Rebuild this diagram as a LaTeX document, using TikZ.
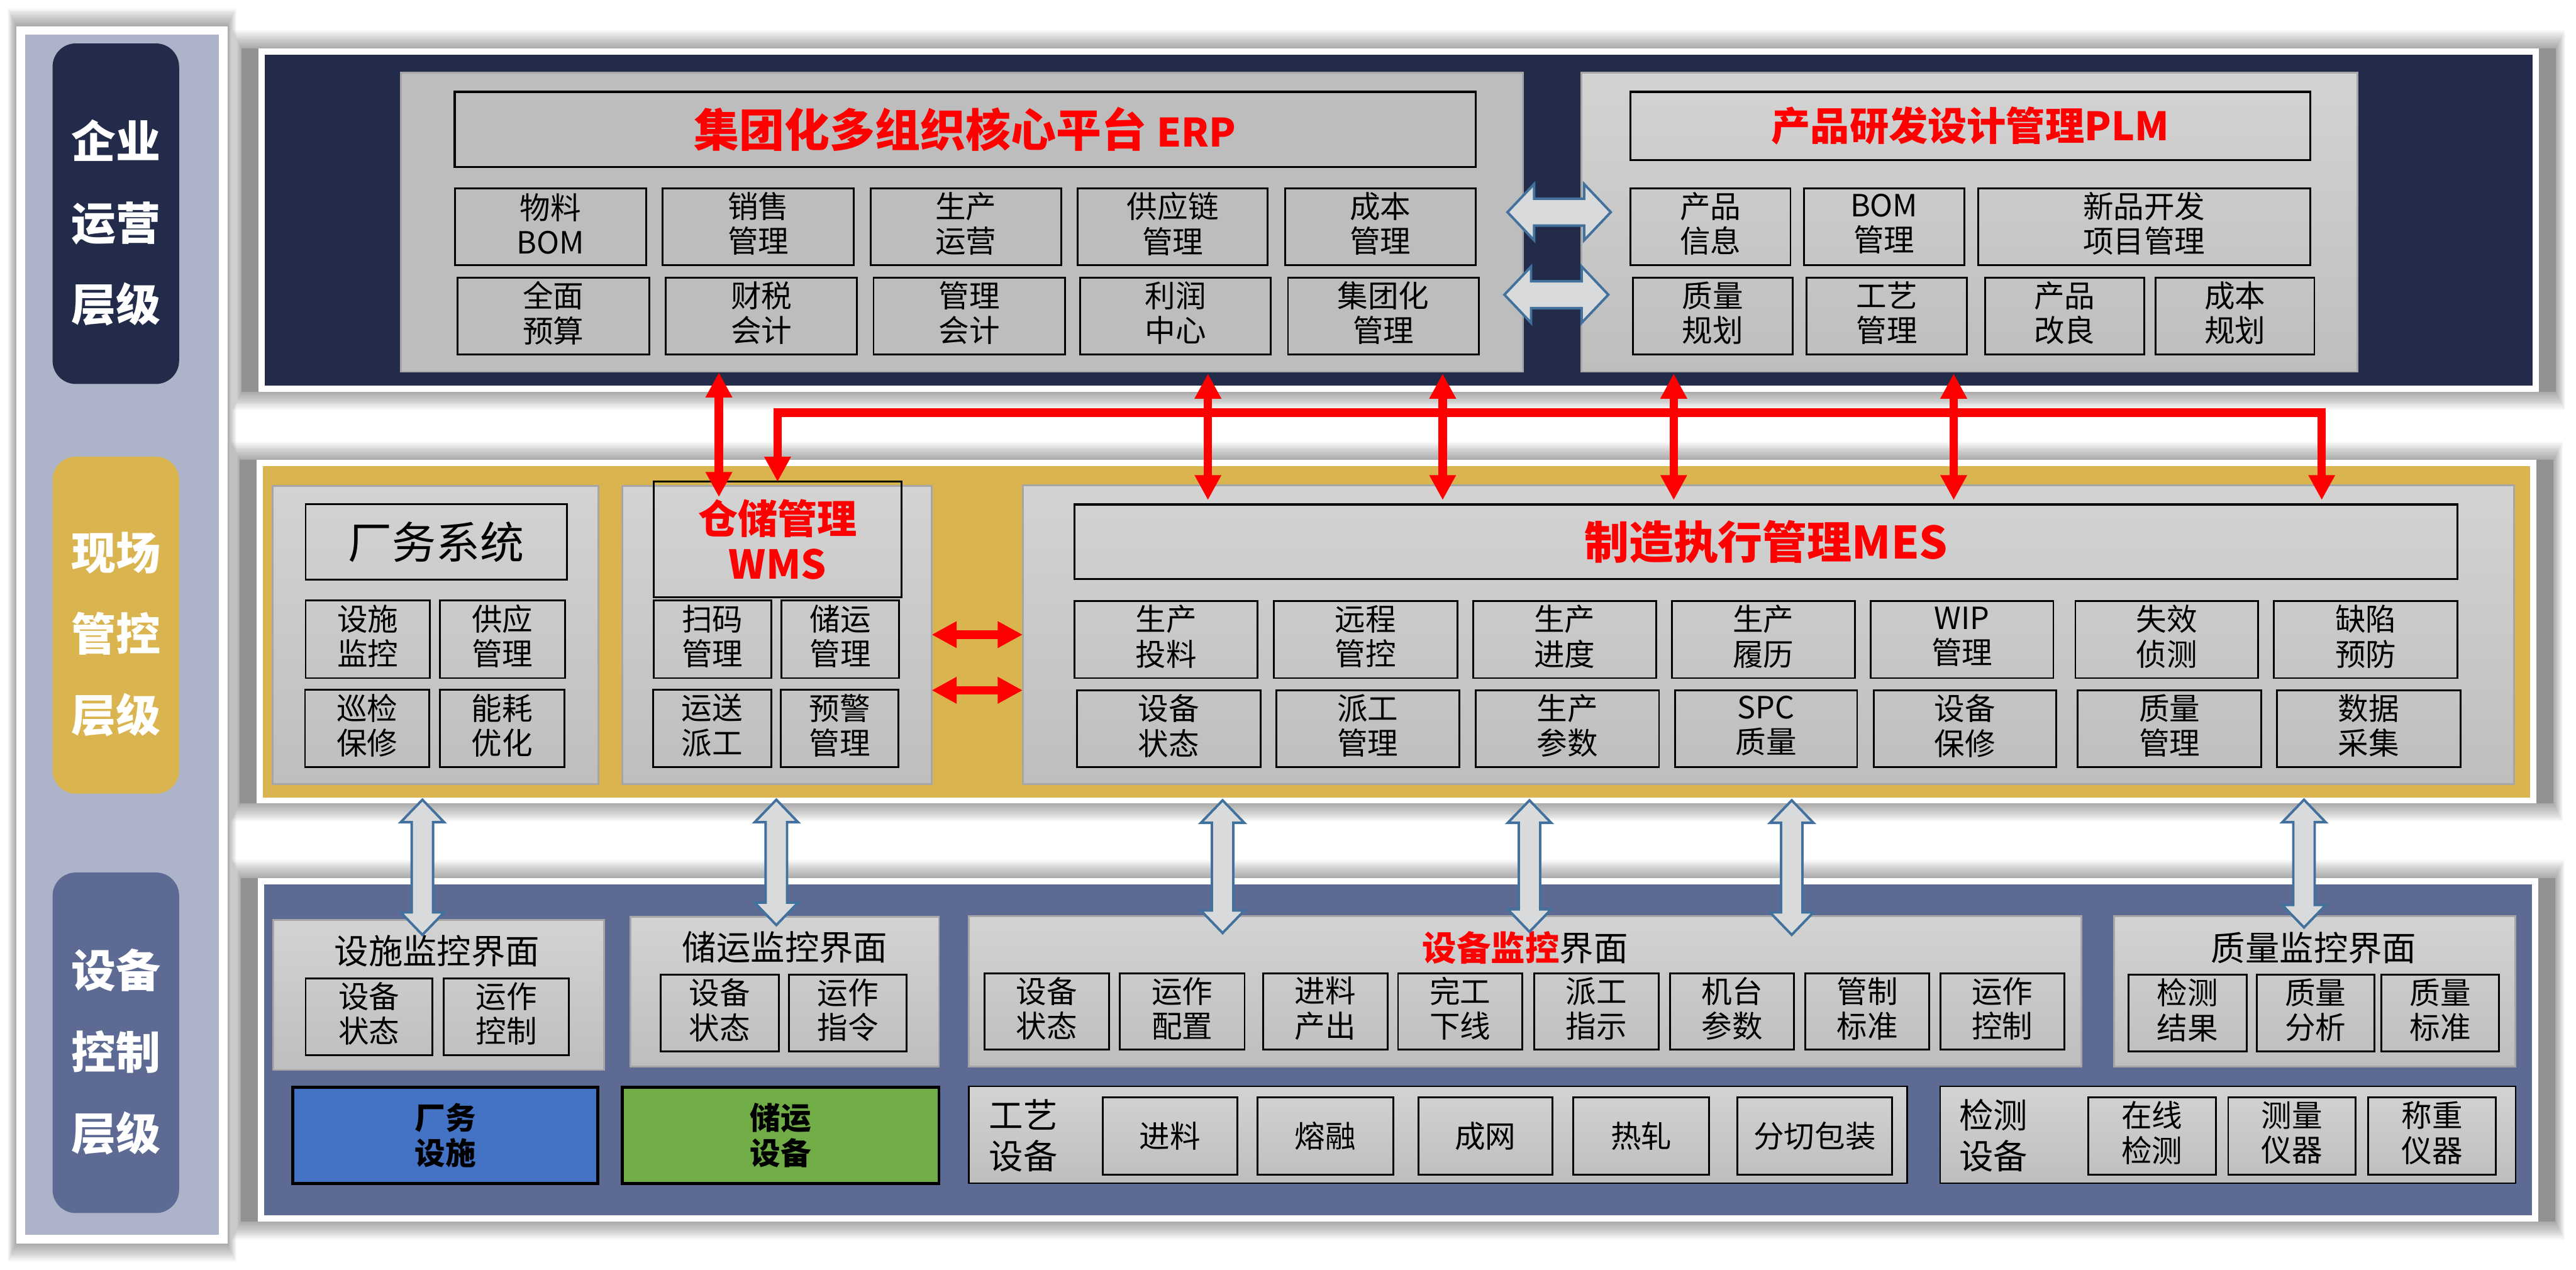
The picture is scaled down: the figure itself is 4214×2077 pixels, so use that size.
\documentclass[tikz,border=0pt]{standalone}
\usepackage{fontspec}
\setmainfont{Noto Sans CJK SC}
\usetikzlibrary{arrows.meta,shapes.arrows}
\definecolor{navy}{HTML}{222B4A}
\definecolor{goldbar}{HTML}{D9B44F}
\definecolor{slate}{HTML}{5D6A94}
\definecolor{sidebg}{HTML}{ADB3C9}
\definecolor{edgegray}{HTML}{A6A6A6}
\definecolor{flatgray}{HTML}{BDBDBD}
\definecolor{gtop}{HTML}{D3D3D3}
\definecolor{gbot}{HTML}{BEBEBE}
\definecolor{blockblue}{HTML}{4472C4}
\definecolor{blockgreen}{HTML}{70AD47}
\definecolor{hollowline}{HTML}{41719C}
\definecolor{hollowfill}{HTML}{D9DADC}
\newcommand\fsz[2]{\fontsize{#1}{#2}\selectfont}
% node from corners: [style]{text lift}{name}{x1}{y1}{x2}{y2}{text}
\newcommand\mkd[8][]{%
  \pgfmathsetmacro\mycx{(#4+#6)/2}\pgfmathsetmacro\mycy{(#5+#7)/2}%
  \pgfmathsetmacro\myw{#6-#4}\pgfmathsetmacro\myh{#7-#5}\pgfmathsetmacro\myv{2*#2}%
  \node[inner sep=0pt,outer sep=0pt,#1] (#3) at (\mycx,\mycy)
    {\parbox[c][\myh pt][c]{\myw pt}{\hrule height 0pt width \myw pt\relax\centering #8\par\vspace{\myv pt}}};}
\newcommand\mk[7][]{\mkd[#1]{5}{#2}{#3}{#4}{#5}{#6}{#7}}
\newcommand\mkz[7][]{\mkd[#1]{0}{#2}{#3}{#4}{#5}{#6}{#7}}
\newcommand\pshadow[5]{%
  \fill[black,opacity=.15] (#1-#5,#2) rectangle (#3+#5,#4);
  \foreach \i in {1,...,15}{\fill[black,opacity=.024] ({#1-#5-\i},{#2-2*\i}) rectangle ({#3+#5+\i},{#4+2*\i});}}
\newcommand\vhollow[4]{% name, x, top, bottom
  \pgfmathsetmacro\mycy{(#3+#4)/2}\pgfmathsetmacro\myh{#4-#3}%
  \node[hollowv,minimum height=\myh pt] (#1) at (#2,\mycy) {};}
\tikzset{
  cell/.style={draw=black,line width=3pt,font=\fsz{50}{57}},
  pill/.style={rounded corners=38pt,text=white,font=\bfseries\fsz{73}{133}},
  pnl/.style={draw=edgegray,line width=3pt,top color=gtop,bottom color=gbot},
  flat/.style={draw=edgegray,line width=3pt,fill=flatgray},
  bar/.style={draw=black,line width=2.5pt,top color=gtop,bottom color=gbot},
  block/.style={draw=black,line width=5pt,font=\bfseries\fsz{50}{57}},
  rtitle/.style={draw=black,line width=3.5pt,text=red},
  redarr/.style={draw=red,line width=14pt,
    {Triangle[length=41pt,width=41pt]}-{Triangle[length=41pt,width=41pt]}},
  reddown/.style={draw=red,line width=14pt,
    {Triangle[length=41pt,width=41pt]}-{Triangle[length=41pt,width=41pt]}},
  hollowv/.style={shape=double arrow,rotate=90,draw=hollowline,line width=4pt,fill=hollowfill,
    inner xsep=0pt,inner ysep=15.5pt,outer sep=0pt,double arrow head extend=18pt,double arrow tip angle=88},
  hollowh/.style={shape=double arrow,draw=hollowline,line width=4pt,fill=hollowfill,
    inner xsep=0pt,inner ysep=20pt,outer sep=0pt,double arrow head extend=24pt,double arrow tip angle=93},
}
\begin{document}
\begin{tikzpicture}[x=1pt,y=-1pt]
\useasboundingbox (0,0) rectangle (4214,2077);
\fill[white] (0,0) rectangle (4214,2077);
% shadows
\pshadow{27}{43}{372}{2034}{0}
\pshadow{423}{79}{4153}{641}{28}
\pshadow{420}{752}{4149}{1314}{28}
\pshadow{422}{1436}{4152}{1998}{28}
% side column
\mkz[draw=white,line width=14pt,fill=sidebg]{side}{34}{50}{365}{2027}{}
\mkd[pill,fill=navy]{-15}{pilla}{86}{71}{293}{628}{企业\\运营\\层级}
\mkd[pill,fill=goldbar]{-15}{pillb}{86}{747}{293}{1298}{现场\\管控\\层级}
\mkd[pill,fill=slate]{-15}{pillc}{86}{1427}{293}{1984}{设备\\控制\\层级}
% three layers
\mkz[draw=white,line width=10pt,fill=navy]{top}{428}{84}{4148}{636}{}
\mkz[draw=white,line width=10pt,fill=goldbar]{mid}{425}{757}{4144}{1309}{}
\mkz[draw=white,line width=10pt,fill=slate]{low}{427}{1441}{4147}{1993}{}
% ERP
\mkz[flat]{erp}{656}{119}{2491}{608}{}
\mkz[rtitle,font=\bfseries\fsz{74}{80}]{erptitle}{744}{150}{2414}{273}{集团化多组织核心平台 {\fsz{64}{80}ERP}}
\mk[cell]{e1}{744}{308}{1057}{434}{物料\\BOM}
\mk[cell]{e2}{1084}{308}{1397}{434}{销售\\管理}
\mk[cell]{e3}{1424}{308}{1736}{434}{生产\\运营}
\mk[cell]{e4}{1763}{308}{2074}{434}{供应链\\管理}
\mk[cell]{e5}{2102}{308}{2414}{434}{成本\\管理}
\mk[cell]{e6}{748}{454}{1062}{580}{全面\\预算}
\mk[cell]{e7}{1089}{454}{1402}{580}{财税\\会计}
\mk[cell]{e8}{1429}{454}{1742}{580}{管理\\会计}
\mk[cell]{e9}{1767}{454}{2079}{580}{利润\\中心}
\mk[cell]{e10}{2107}{454}{2419}{580}{集团化\\管理}
% PLM
\mkz[pnl]{plm}{2587}{119}{3856}{608}{}
\mkz[rtitle,font=\bfseries\fsz{64}{70}]{plmtitle}{2667}{150}{3779}{262}{产品研发设计管理PLM}
\mk[cell]{p1}{2667}{308}{2929}{434}{产品\\信息}
\mk[cell]{p2}{2951}{308}{3213}{434}{BOM\\管理}
\mk[cell]{p3}{3236}{308}{3779}{434}{新品开发\\项目管理}
\mk[cell]{p4}{2671}{454}{2933}{580}{质量\\规划}
\mk[cell]{p5}{2955}{454}{3218}{580}{工艺\\管理}
\mk[cell]{p6}{3247}{454}{3508}{580}{产品\\改良}
\mk[cell]{p7}{3526}{454}{3786}{580}{成本\\规划}
% facility system
\mkz[pnl]{fac}{446}{795}{979}{1282}{}
\mkz[cell,font=\fsz{72}{80}]{factitle}{500}{825}{927}{948}{厂务系统}
\mk[cell]{f1}{500}{982}{703}{1109}{设施\\监控}
\mk[cell]{f2}{720}{982}{924}{1109}{供应\\管理}
\mk[cell]{f3}{499}{1128}{702}{1255}{巡检\\保修}
\mk[cell]{f4}{720}{1128}{923}{1255}{能耗\\优化}
% WMS
\mkz[pnl]{wms}{1018}{795}{1524}{1282}{}
\mkz[rtitle,line width=3pt,font=\bfseries\fsz{65}{74}]{wmstitle}{1069}{788}{1475}{977}{仓储管理\\WMS}
\mk[cell]{w1}{1069}{982}{1262}{1109}{扫码\\管理}
\mk[cell]{w2}{1278}{982}{1471}{1109}{储运\\管理}
\mk[cell]{w3}{1068}{1128}{1262}{1255}{运送\\派工}
\mk[cell]{w4}{1277}{1128}{1470}{1255}{预警\\管理}
% MES
\mkz[pnl]{mes}{1673}{794}{4113}{1282}{}
\mkz[rtitle,font=\bfseries\fsz{73}{80}]{mestitle}{1758}{825}{4020}{947}{制造执行管理MES}
\mk[cell]{m1}{1758}{983}{2057}{1109}{生产\\投料}
\mk[cell]{m2}{2084}{983}{2384}{1109}{远程\\管控}
\mk[cell]{m3}{2410}{983}{2709}{1109}{生产\\进度}
\mk[cell]{m4}{2735}{983}{3034}{1109}{生产\\履历}
\mk[cell]{m5}{3060}{983}{3359}{1109}{WIP\\管理}
\mk[cell]{m6}{3395}{983}{3694}{1109}{失效\\侦测}
\mk[cell]{m7}{3720}{983}{4020}{1109}{缺陷\\预防}
\mk[cell]{m8}{1762}{1129}{2062}{1255}{设备\\状态}
\mk[cell]{m9}{2088}{1129}{2387}{1255}{派工\\管理}
\mk[cell]{m10}{2414}{1129}{2714}{1255}{生产\\参数}
\mk[cell]{m11}{2740}{1129}{3038}{1255}{SPC\\质量}
\mk[cell]{m12}{3065}{1129}{3364}{1255}{设备\\保修}
\mk[cell]{m13}{3399}{1129}{3699}{1255}{质量\\管理}
\mk[cell]{m14}{3725}{1129}{4025}{1255}{数据\\采集}
% monitoring interfaces
\mkz[pnl]{ma}{447}{1505}{988}{1750}{}
\node[font=\fsz{56}{60}] (mat) at (715,1555) {设施监控界面};
\mk[cell]{a1}{500}{1600}{707}{1726}{设备\\状态}
\mk[cell]{a2}{726}{1600}{931}{1726}{运作\\控制}
\mkz[pnl]{mb}{1031}{1499}{1536}{1744}{}
\node[font=\fsz{56}{60}] (mbt) at (1284,1549) {储运监控界面};
\mk[cell]{b1}{1081}{1594}{1274}{1720}{设备\\状态}
\mk[cell]{b2}{1291}{1594}{1483}{1720}{运作\\指令}
\mkz[pnl]{mc}{1585}{1498}{3405}{1744}{}
\node[font=\fsz{56}{60}] (mct) at (2495,1550) {\textcolor{red}{\bfseries 设备监控}界面};
\mk[cell]{c1}{1611}{1592}{1814}{1717}{设备\\状态}
\mk[cell]{c2}{1832}{1592}{2036}{1717}{运作\\配置}
\mk[cell]{c3}{2066}{1592}{2270}{1717}{进料\\产出}
\mk[cell]{c4}{2287}{1592}{2490}{1717}{完工\\下线}
\mk[cell]{c5}{2510}{1592}{2713}{1717}{派工\\指示}
\mk[cell]{c6}{2732}{1592}{2935}{1717}{机台\\参数}
\mk[cell]{c7}{2953}{1592}{3156}{1717}{管制\\标准}
\mk[cell]{c8}{3174}{1592}{3377}{1717}{运作\\控制}
\mkz[pnl]{md}{3458}{1498}{4115}{1744}{}
\node[font=\fsz{56}{60}] (mdt) at (3785,1550) {质量监控界面};
\mk[cell]{d1}{3482}{1594}{3675}{1720}{检测\\结果}
\mk[cell]{d2}{3692}{1594}{3884}{1720}{质量\\分析}
\mk[cell]{d3}{3896}{1594}{4088}{1720}{质量\\标准}
% device row
\mkz[block,fill=blockblue]{bb}{479}{1778}{978}{1936}{厂务\\设施}
\mkz[block,fill=blockgreen]{bg}{1018}{1778}{1536}{1936}{储运\\设备}
\mkz[bar]{proc}{1585}{1777}{3120}{1935}{}
\node[align=center,font=\fsz{56}{67}] (proct) at (1674,1857) {工艺\\设备};
\mkz[cell]{q1}{1804}{1795}{2024}{1921}{进料}
\mkz[cell]{q2}{2057}{1795}{2279}{1921}{熔融}
\mkz[cell]{q3}{2320}{1795}{2540}{1921}{成网}
\mkz[cell]{q4}{2574}{1795}{2796}{1921}{热轧}
\mkz[cell]{q5}{2842}{1795}{3095}{1921}{分切包装}
\mkz[bar]{insp}{3174}{1777}{4115}{1935}{}
\node[align=center,font=\fsz{56}{67}] (inspt) at (3261,1857) {检测\\设备};
\mk[cell]{r1}{3416}{1795}{3625}{1921}{在线\\检测}
\mk[cell]{r2}{3645}{1795}{3853}{1921}{测量\\仪器}
\mk[cell]{r3}{3874}{1795}{4083}{1921}{称重\\仪器}
% hollow connectors
\vhollow{ha}{691}{1308}{1529}
\vhollow{hb}{1270}{1308}{1513}
\vhollow{hc}{2000}{1309}{1526}
\vhollow{hd}{2502}{1309}{1524}
\vhollow{he}{2931}{1309}{1529}
\vhollow{hf}{3769}{1308}{1517}
\node[hollowh,minimum height=169pt] (hg) at (2550.5,347) {};
\node[hollowh,minimum height=170pt] (hh) at (2546,482) {};
% red connectors
\coordinate (xa) at (1976,0);
\coordinate (xb) at (2360,0);
\coordinate (xc) at (2738,0);
\coordinate (xd) at (3196,0);
\coordinate (wtip) at (1176,813);
\coordinate (bus) at (3798,675);
\coordinate (ya) at (0,1038);
\coordinate (yb) at (0,1129);
\draw[redarr] ([yshift=-1pt]erp.south -| wtip) -- (wtip);
\draw[redarr] ([yshift=-3pt]erp.south -| xa) -- ([yshift=7pt]mestitle.north -| xa);
\draw[redarr] ([yshift=-3pt]erp.south -| xb) -- ([yshift=7pt]mestitle.north -| xb);
\draw[redarr] ([yshift=-3pt]plm.south -| xc) -- ([yshift=7pt]mestitle.north -| xc);
\draw[redarr] ([yshift=-3pt]plm.south -| xd) -- ([yshift=7pt]mestitle.north -| xd);
\draw[reddown] ([yshift=7pt]mestitle.north -| bus) -- (bus) -- (bus -| wmstitle.north) -- (wmstitle.north);
\draw[redarr] (wms.east |- ya) -- (mes.west |- ya);
\draw[redarr] (wms.east |- yb) -- (mes.west |- yb);
\end{tikzpicture}
\end{document}
